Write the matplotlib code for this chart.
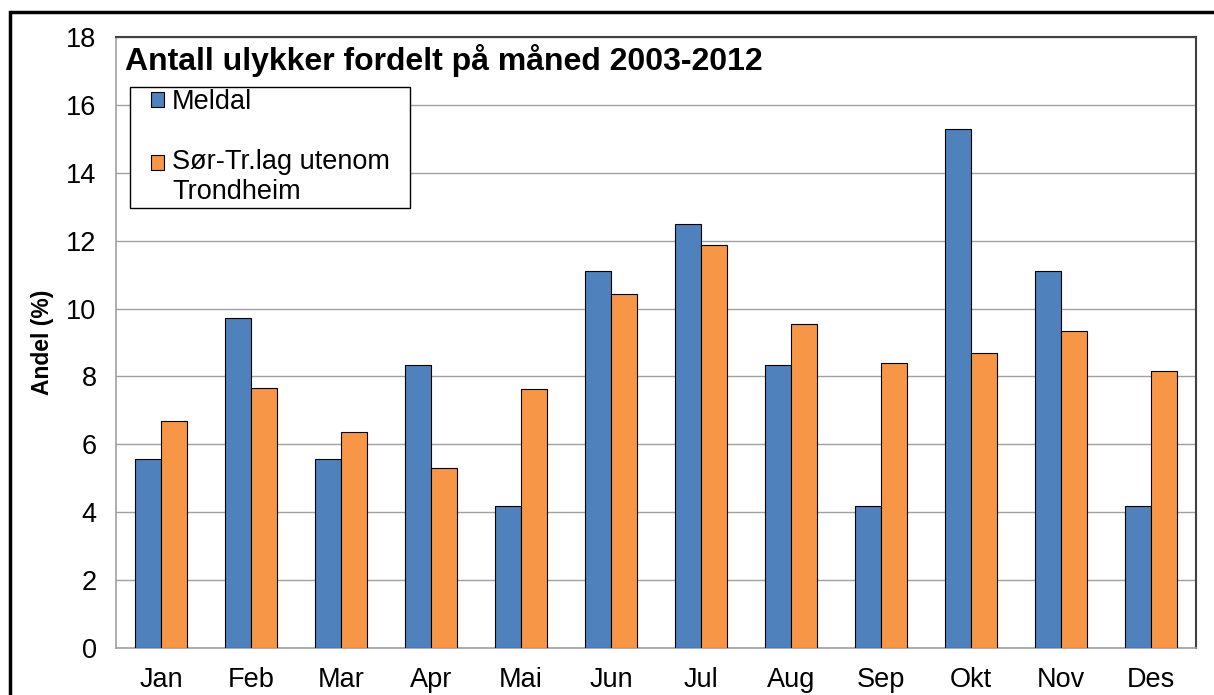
import matplotlib.pyplot as plt
import numpy as np
from matplotlib.patches import Rectangle

plt.rcParams['font.family'] = ['Liberation Sans', 'DejaVu Sans']

months = ['Jan', 'Feb', 'Mar', 'Apr', 'Mai', 'Jun', 'Jul', 'Aug', 'Sep', 'Okt', 'Nov', 'Des']
meldal = [5.56, 9.72, 5.56, 8.33, 4.17, 11.11, 12.5, 8.33, 4.17, 15.28, 11.11, 4.17]
sor_tr = [6.69, 7.65, 6.37, 5.31, 7.63, 10.42, 11.86, 9.55, 8.39, 8.68, 9.35, 8.16]

W, H = 1214, 695
fig = plt.figure(figsize=(W / 100, H / 100), dpi=100)
ax = fig.add_axes([116 / W, 1 - 648 / H, (1196 - 116) / W, (648 - 37) / H])

x = np.arange(len(months))
bw = 0.285
fs = 19.5
ax.bar(x - bw / 2, meldal, bw, color='#4F81BD', edgecolor='black', linewidth=0.8,
       label='Meldal', zorder=3)
ax.bar(x + bw / 2, sor_tr, bw, color='#F79646', edgecolor='black', linewidth=0.8,
       label='Sør-Tr.lag utenom\nTrondheim', zorder=3)

ax.set_xlim(-0.5, len(months) - 0.5)
ax.set_ylim(0, 18)
ax.set_yticks(range(0, 19, 2))
ax.set_xticks(x)
ax.set_xticklabels(months)
ax.tick_params(axis='both', length=0, labelsize=fs)
ax.tick_params(axis='x', pad=14)
ax.tick_params(axis='y', pad=14)
ax.grid(axis='y', color='#A0A0A0', linewidth=1, zorder=0)

for s in ['left', 'bottom']:
    ax.spines[s].set_color('#A0A0A0')
    ax.spines[s].set_linewidth(1.2)
for s in ['top', 'right']:
    ax.spines[s].set_color('#404040')
    ax.spines[s].set_linewidth(1.5)

ax.set_ylabel('Andel (%)', fontsize=16.5, fontweight='bold', labelpad=9)

ax.text(0.008, 0.962, 'Antall ulykker fordelt på måned 2003-2012', transform=ax.transAxes,
        fontsize=23, fontweight='bold', va='center', ha='left')

# legend box (drawn separately to get the wider right padding)
ax.add_patch(Rectangle((0.013, 0.720), 0.259, 0.198, transform=ax.transAxes,
                       facecolor='white', edgecolor='black', linewidth=1, zorder=4))
leg = ax.legend(loc='upper left', bbox_to_anchor=(0.032, 0.915), fontsize=fs,
                frameon=False, handlelength=0.5, handleheight=0.5, handletextpad=0.3,
                labelspacing=1.25, borderpad=0, borderaxespad=0)
leg.set_zorder(5)
# put the orange marker beside the first line of its two-line label
h2 = leg.legend_handles[1]
h2.set_y(h2.get_y() + 0.55 * fs)

# outer chart border
fig.patches.append(Rectangle((10 / W, -0.1), 1.2, 1 - 12 / H + 0.1, transform=fig.transFigure,
                             fill=False, edgecolor='black', linewidth=2.5))

fig.savefig('out.png', dpi=100)
